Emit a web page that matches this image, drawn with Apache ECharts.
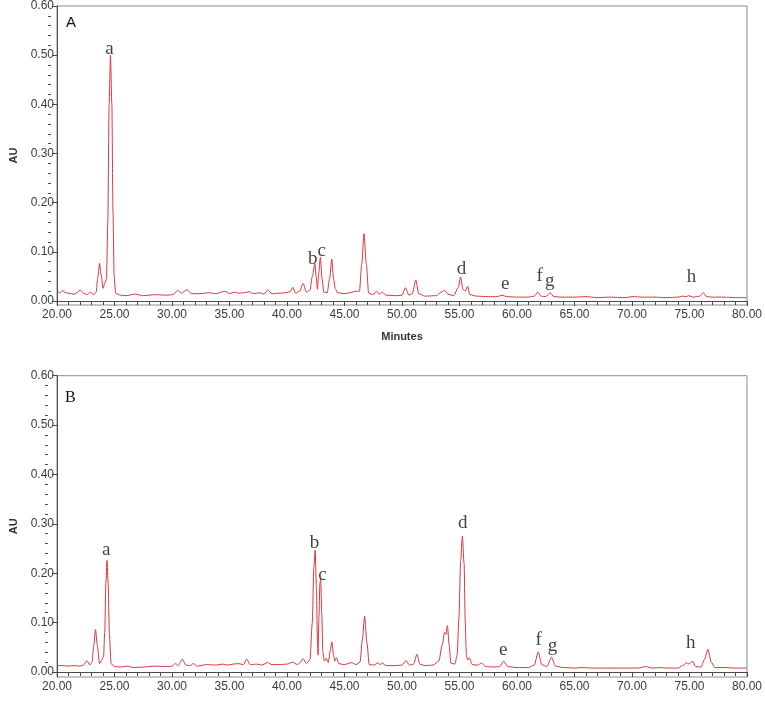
<!DOCTYPE html>
<html>
<head>
<meta charset="utf-8">
<script src="https://cdn.jsdelivr.net/npm/echarts@6/dist/echarts.min.js"></script>
<style>
  html, body { margin: 0; padding: 0; background: #fff; }
  #chart { width: 765px; height: 713px; }
</style>
</head>
<body>
<div id="chart"></div>
<script>
// chromatogram A (time in minutes, absorbance AU)
var traceA = [
  [20.0,0.019],[20.3,0.017],[20.5,0.022],[20.7,0.017],[21.0,0.016],[21.5,0.014],[21.8,0.018],[22.0,0.023],
  [22.3,0.016],[22.6,0.013],[22.9,0.018],[23.2,0.013],[23.4,0.018],[23.55,0.048],[23.7,0.077],[23.85,0.052],
  [24.0,0.026],[24.15,0.036],[24.3,0.045],[24.42,0.16],[24.53,0.40],[24.65,0.50],[24.77,0.40],[24.87,0.18],
  [24.97,0.05],[25.1,0.016],[25.5,0.012],[26.0,0.011],[26.8,0.014],[27.5,0.011],[28.5,0.013],[29.5,0.012],
  [30.1,0.013],[30.5,0.022],[30.8,0.016],[31.3,0.023],[31.7,0.015],[32.5,0.015],[33.2,0.017],[33.8,0.015],
  [34.6,0.020],[35.0,0.015],[35.4,0.018],[35.8,0.016],[36.3,0.017],[36.7,0.019],[37.1,0.015],[37.6,0.017],
  [38.0,0.014],[38.3,0.023],[38.7,0.015],[39.3,0.016],[40.0,0.017],[40.3,0.020],[40.5,0.028],[40.75,0.016],
  [41.1,0.020],[41.4,0.036],[41.7,0.018],[42.0,0.022],[42.2,0.050],[42.42,0.076],[42.55,0.048],[42.65,0.024],
  [42.75,0.055],[42.9,0.089],[43.05,0.045],[43.2,0.018],[43.5,0.017],[43.7,0.045],[43.9,0.085],[44.05,0.045],
  [44.2,0.025],[44.4,0.017],[45.0,0.015],[45.5,0.017],[46.0,0.020],[46.3,0.020],[46.5,0.075],[46.7,0.137],
  [46.9,0.075],[47.1,0.016],[47.5,0.013],[47.8,0.020],[48.0,0.014],[48.3,0.018],[48.6,0.012],[49.5,0.011],
  [50.0,0.012],[50.3,0.027],[50.6,0.012],[50.9,0.015],[51.2,0.043],[51.45,0.015],[52.0,0.010],[53.0,0.011],
  [53.4,0.018],[53.7,0.022],[54.0,0.014],[54.5,0.011],[54.9,0.028],[55.1,0.049],[55.3,0.024],[55.5,0.020],
  [55.7,0.030],[55.9,0.013],[56.5,0.010],[57.5,0.009],[58.3,0.009],[58.7,0.012],[59.1,0.009],[60.0,0.008],
  [61.0,0.008],[61.5,0.010],[61.8,0.018],[62.1,0.010],[62.5,0.009],[62.9,0.017],[63.2,0.009],[64.0,0.008],
  [65.0,0.008],[66.0,0.009],[67.0,0.007],[68.0,0.008],[69.5,0.007],[70.0,0.009],[71.0,0.008],[72.0,0.008],
  [73.0,0.007],[74.0,0.008],[74.4,0.010],[74.7,0.009],[74.95,0.011],[75.3,0.008],[75.9,0.010],[76.2,0.017],
  [76.5,0.009],[77.0,0.008],[78.0,0.008],[79.0,0.007],[80.0,0.007]
];

// chromatogram B
var traceB = [
  [20.0,0.013],[20.5,0.013],[21.0,0.012],[21.5,0.013],[22.0,0.012],[22.3,0.014],[22.6,0.023],[22.85,0.014],
  [23.05,0.020],[23.2,0.055],[23.35,0.086],[23.5,0.055],[23.7,0.017],[23.9,0.024],[24.05,0.032],[24.15,0.080],
  [24.25,0.180],[24.35,0.226],[24.45,0.180],[24.55,0.080],[24.7,0.017],[25.0,0.011],[25.5,0.010],[26.2,0.012],
  [26.6,0.009],[27.5,0.010],[28.5,0.012],[29.5,0.011],[30.0,0.012],[30.3,0.017],[30.55,0.013],[30.9,0.026],
  [31.2,0.014],[31.6,0.013],[31.85,0.017],[32.2,0.012],[33.0,0.015],[33.8,0.014],[34.4,0.016],[34.8,0.014],
  [35.3,0.016],[35.8,0.017],[36.2,0.015],[36.5,0.026],[36.8,0.015],[37.4,0.016],[37.8,0.014],[38.3,0.019],
  [38.7,0.015],[39.4,0.015],[40.0,0.016],[40.5,0.020],[40.9,0.015],[41.1,0.018],[41.4,0.027],[41.7,0.017],
  [42.0,0.025],[42.2,0.100],[42.33,0.210],[42.45,0.247],[42.56,0.170],[42.65,0.060],[42.7,0.034],[42.78,0.110],
  [42.86,0.180],[42.93,0.188],[43.02,0.120],[43.12,0.040],[43.25,0.022],[43.4,0.028],[43.6,0.019],[43.75,0.042],
  [43.9,0.061],[44.05,0.034],[44.15,0.022],[44.3,0.029],[44.5,0.017],[45.0,0.015],[45.6,0.019],[46.0,0.015],
  [46.35,0.020],[46.55,0.065],[46.75,0.113],[46.95,0.060],[47.15,0.015],[47.6,0.014],[47.9,0.019],[48.1,0.015],
  [48.3,0.018],[48.6,0.013],[49.5,0.013],[50.0,0.014],[50.35,0.023],[50.65,0.014],[51.0,0.016],[51.3,0.036],
  [51.55,0.016],[52.0,0.013],[52.7,0.014],[53.2,0.022],[53.5,0.055],[53.7,0.080],[53.82,0.076],[53.95,0.094],
  [54.1,0.055],[54.25,0.018],[54.6,0.016],[54.8,0.035],[54.95,0.110],[55.1,0.225],[55.25,0.275],[55.4,0.220],
  [55.5,0.100],[55.6,0.035],[55.7,0.024],[55.85,0.029],[56.1,0.015],[56.6,0.014],[56.9,0.018],[57.3,0.011],
  [58.0,0.010],[58.5,0.011],[58.85,0.022],[59.2,0.011],[60.0,0.009],[61.0,0.009],[61.5,0.014],[61.85,0.041],
  [62.15,0.015],[62.6,0.011],[63.0,0.030],[63.35,0.012],[64.0,0.009],[65.0,0.008],[65.6,0.009],[66.5,0.008],
  [68.0,0.008],[69.5,0.008],[70.5,0.008],[71.25,0.011],[71.7,0.008],[72.5,0.009],[73.0,0.008],[74.0,0.008],
  [74.5,0.014],[74.75,0.019],[74.95,0.016],[75.25,0.022],[75.55,0.011],[76.0,0.010],[76.3,0.025],[76.6,0.046],
  [76.9,0.020],[77.2,0.009],[78.1,0.009],[79.0,0.008],[80.0,0.008]
];

// peak letters: [time, AU, letter]
var peaksA = [[24.57,0.513,'a'],[42.24,0.085,'b'],[43.02,0.101,'c'],[55.17,0.065,'d'],
              [58.97,0.034,'e'],[61.98,0.051,'f'],[62.84,0.041,'g'],[75.17,0.049,'h']];
var peaksB = [[24.29,0.247,'a'],[42.40,0.261,'b'],[43.09,0.196,'c'],[55.28,0.302,'d'],
              [58.80,0.045,'e'],[61.89,0.065,'f'],[63.09,0.053,'g'],[75.11,0.059,'h']];

var majorY = [0, 0.1, 0.2, 0.3, 0.4, 0.5, 0.6];
var minorY = [];
for (var i = 0; i <= 30; i++) { if (i % 5) minorY.push(+(i * 0.02).toFixed(2)); }

var axisCol = '#4a4a4a';
var lblStyle = { fontSize: 12, color: '#3a3a46', fontFamily: 'Liberation Sans, Arial, sans-serif' };

function xAx(idx, withName) {
  return {
    type: 'value', gridIndex: idx, min: 20, max: 80, interval: 5,
    name: withName ? 'Minutes' : '', nameLocation: 'middle', nameGap: 26,
    nameTextStyle: { fontSize: 11, fontWeight: 'bold', color: '#333', fontFamily: 'Liberation Sans, Arial' },
    axisLine: { lineStyle: { color: axisCol } },
    axisTick: { length: 5, lineStyle: { color: axisCol } },
    minorTick: { show: true, splitNumber: 5, length: 4, lineStyle: { color: axisCol } },
    axisLabel: Object.assign({ margin: 4, showMaxLabel: true, showMinLabel: true,
      formatter: function (v) { return v.toFixed(2); } }, lblStyle),
    splitLine: { show: false }
  };
}
function yAxMain(idx, lo) {
  return {
    type: 'value', gridIndex: idx, position: 'left', min: lo, max: 0.6,
    name: 'AU', nameLocation: 'middle', nameGap: 38,
    nameTextStyle: { fontSize: 11, fontWeight: 'bold', color: '#333', fontFamily: 'Liberation Sans, Arial' },
    axisLine: { show: true, lineStyle: { color: axisCol } },
    axisTick: { show: true, length: 5, customValues: majorY, lineStyle: { color: axisCol } },
    axisLabel: Object.assign({ margin: 3, customValues: majorY,
      formatter: function (v) { return v.toFixed(2); } }, lblStyle),
    splitLine: { show: false }
  };
}
// minor ticks: a right-side axis pulled back onto the left edge, ticks turned inward (= leftward)
function yAxMinor(idx, lo, w) {
  return {
    type: 'value', gridIndex: idx, position: 'right', offset: -w, min: lo, max: 0.6,
    axisLine: { show: false },
    axisTick: { show: true, inside: true, length: 3, customValues: minorY, lineStyle: { color: axisCol } },
    axisLabel: { show: false },
    splitLine: { show: false }
  };
}
function peakSeries(idx, yIdx, pts) {
  return {
    type: 'scatter', xAxisIndex: idx, yAxisIndex: yIdx, data: pts,
    symbolSize: 1, itemStyle: { color: 'transparent' }, silent: true,
    label: { show: true, position: 'inside', formatter: function (p) { return p.value[2]; },
      fontSize: 19, color: '#111', fontFamily: 'Liberation Serif, Times New Roman, serif' }
  };
}
function traceSeries(idx, yIdx, pts) {
  return {
    type: 'line', xAxisIndex: idx, yAxisIndex: yIdx, data: pts, showSymbol: false,
    smooth: 0.25, smoothMonotone: 'x',
    lineStyle: { color: '#d9363c', width: 1 }
  };
}

var chart = echarts.init(document.getElementById('chart'), null, { renderer: 'canvas' });
chart.setOption({
  animation: false,
  title: [
    { text: 'A', left: 61, top: 10, textStyle: { fontSize: 15, fontWeight: 'normal', color: '#111', fontFamily: 'Liberation Sans, Arial' } },
    { text: 'B', left: 60, top: 385, textStyle: { fontSize: 16, fontWeight: 'normal', color: '#111', fontFamily: 'Liberation Serif, Times New Roman' } }
  ],
  grid: [
    { left: 51, top: 5.5, width: 696, height: 299.5, show: true, borderColor: '#8c8c8c', borderWidth: 1 },
    { left: 49, top: 375.7, width: 699, height: 301.3, show: true, borderColor: '#8c8c8c', borderWidth: 1 }
  ],
  xAxis: [xAx(0, true), xAx(1, false)],
  yAxis: [yAxMain(0, -0.008), yAxMinor(0, -0.008, 696), yAxMain(1, -0.0101), yAxMinor(1, -0.0101, 699)],
  series: [
    traceSeries(0, 0, traceA),
    peakSeries(0, 0, peaksA),
    traceSeries(1, 2, traceB),
    peakSeries(1, 2, peaksB)
  ]
});
</script>
</body>
</html>
